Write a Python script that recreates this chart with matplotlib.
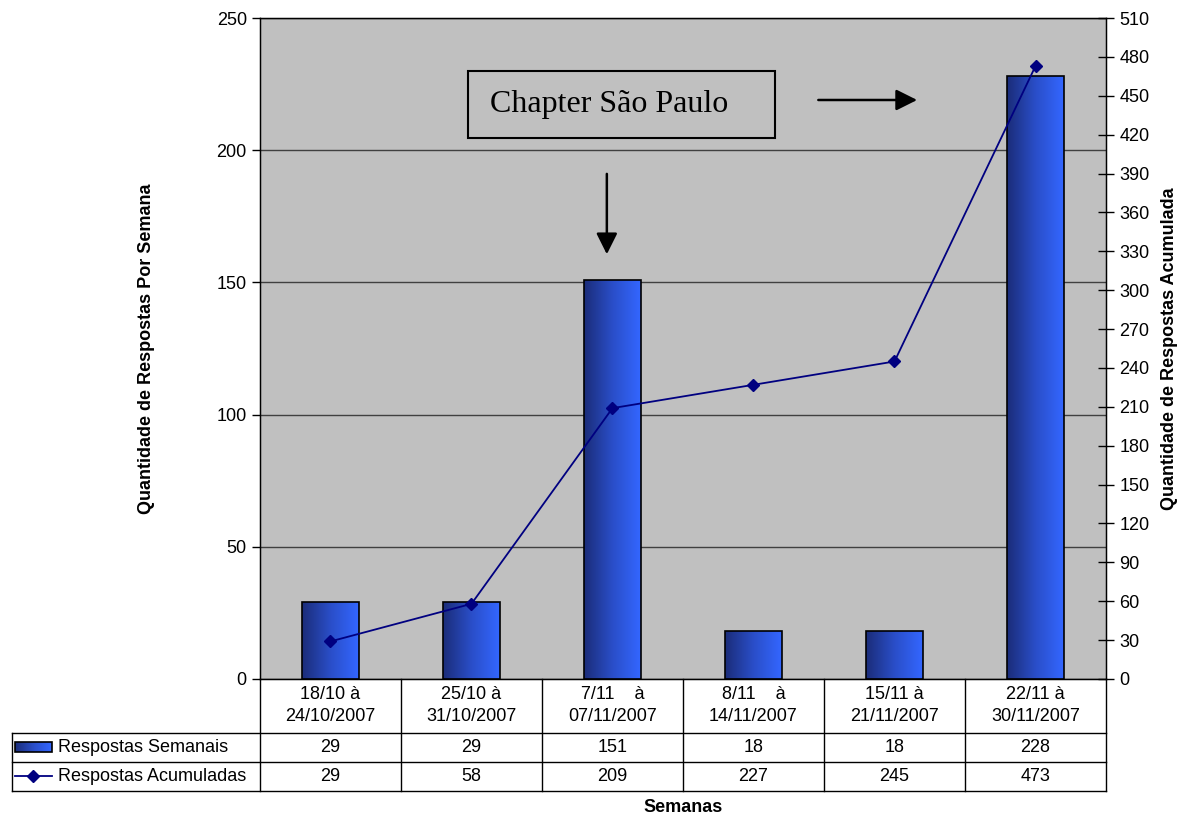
import numpy as np
import matplotlib.pyplot as plt
from matplotlib.patches import Rectangle
from matplotlib.lines import Line2D
from matplotlib.colors import LinearSegmentedColormap

plt.rcParams['font.family'] = ['Liberation Sans', 'DejaVu Sans']

semanas = ['18/10 à\n24/10/2007', '25/10 à\n31/10/2007', '7/11    à\n07/11/2007',
           '8/11    à\n14/11/2007', '15/11 à\n21/11/2007', '22/11 à\n30/11/2007']
semanais = [29, 29, 151, 18, 18, 228]
acumuladas = [29, 58, 209, 227, 245, 473]

bar_cmap = LinearSegmentedColormap.from_list('barra', ['#1b2d7a', '#2a4ec8', '#3366ff'])
navy = '#000080'
fs = 13

fig = plt.figure(figsize=(11.8, 8.16), dpi=100)
ax = fig.add_axes([0.2203, 0.1679, 0.7170, 0.8100])
ax.set_facecolor('#c0c0c0')
x = np.arange(len(semanas))
w = 0.40

# barras com gradiente horizontal
grad = np.linspace(0, 1, 64).reshape(1, -1)
for xi, v in zip(x, semanais):
    r = Rectangle((xi - w / 2, 0), w, v, facecolor='none', edgecolor='black', lw=1.2, zorder=4)
    ax.add_patch(r)
    im = ax.imshow(grad, cmap=bar_cmap, extent=[xi - w / 2, xi + w / 2, 0, v],
                   aspect='auto', zorder=3, interpolation='bilinear')
    im.set_clip_path(r)

ax.set_xlim(-0.5, len(semanas) - 0.5)
ax.set_ylim(0, 250)
ax.set_yticks(range(0, 251, 50))
ax.yaxis.grid(True, color='#404040', lw=1.0)
ax.set_axisbelow(True)
ax.set_xticks([])
ax.tick_params(axis='y', labelsize=fs, length=6, width=1, direction='out')
for s in ax.spines.values():
    s.set_linewidth(1)
ax.set_ylabel('Quantidade de Respostas Por Semana', fontsize=fs, fontweight='bold', labelpad=44)

ax2 = ax.twinx()
ax2.plot(x, acumuladas, color=navy, lw=1.3, marker='D', ms=6, zorder=5)
ax2.set_ylim(0, 510)
ax2.set_yticks(range(0, 511, 30))
ax2.tick_params(axis='y', labelsize=fs, length=12, width=1, direction='inout')
ax2.set_ylabel('Quantidade de Respostas Acumulada', fontsize=fs, fontweight='bold', labelpad=8)

# anotação
ax.add_patch(Rectangle((0.975, 204.6), 2.177, 25.4, facecolor='none', edgecolor='black', lw=1.5, zorder=6))
ax.text(1.131, 217.3, 'Chapter São Paulo', fontsize=23, family='Liberation Serif', va='center', ha='left', zorder=6)
ax.annotate('', xy=(1.96, 159.6), xytext=(1.96, 192.1),
            arrowprops=dict(arrowstyle='-|>', color='black', lw=1.8, mutation_scale=32), zorder=6)
ax.annotate('', xy=(4.18, 219), xytext=(3.44, 219),
            arrowprops=dict(arrowstyle='-|>', color='black', lw=1.8, mutation_scale=32), zorder=6)

# tabela de dados abaixo do eixo
tr = ax.get_xaxis_transform()
y_head, y_r1, y_r2 = -0.0817, -0.1256, -0.1694
left = -0.2931
lk = dict(color='black', lw=1, transform=ax.transAxes, clip_on=False)
ax.add_line(Line2D([left, 1], [y_head, y_head], **lk))
ax.add_line(Line2D([left, 1], [y_r1, y_r1], **lk))
ax.add_line(Line2D([left, 1], [y_r2, y_r2], **lk))
ax.add_line(Line2D([left, left], [y_head, y_r2], **lk))
for i in range(len(semanas) + 1):
    ax.add_line(Line2D([i / len(semanas)] * 2, [0, y_r2], **lk))

for xi, lab, a, b in zip(x, semanas, semanais, acumuladas):
    ax.text(xi, -0.0400, lab, transform=tr, ha='center', va='center', fontsize=fs, linespacing=1.4)
    ax.text(xi, -0.1036, str(a), transform=tr, ha='center', va='center', fontsize=fs)
    ax.text(xi, -0.1475, str(b), transform=tr, ha='center', va='center', fontsize=fs)

# legenda dentro da tabela
sw = Rectangle((-0.2896, -0.1110), 0.0437, 0.0150, transform=ax.transAxes, clip_on=False,
               facecolor='none', edgecolor='black', lw=1.2, zorder=4)
ax.add_patch(sw)
leg_im = ax.imshow(grad, cmap=bar_cmap, extent=[-0.2896, -0.2459, -0.1110, -0.0960],
                   transform=ax.transAxes, aspect='auto', clip_on=False, zorder=3)
leg_im.set_clip_path(sw)
ax.add_line(Line2D([-0.2896, -0.2459], [-0.1475, -0.1475], color=navy, lw=1.3,
                   transform=ax.transAxes, clip_on=False))
ax.add_line(Line2D([-0.26775], [-0.1475], color=navy, marker='D', ms=6, ls='none',
                   transform=ax.transAxes, clip_on=False))
ax.text(-0.2388, -0.1036, 'Respostas Semanais', transform=ax.transAxes, ha='left', va='center', fontsize=fs)
ax.text(-0.2388, -0.1475, 'Respostas Acumuladas', transform=ax.transAxes, ha='left', va='center', fontsize=fs)

ax.text(0.5, -0.1945, 'Semanas', transform=ax.transAxes, ha='center', va='center', fontsize=fs, fontweight='bold')

ax.set_xlim(-0.5, len(semanas) - 0.5)
ax.set_ylim(0, 250)
fig.savefig('out.png', dpi=100)
